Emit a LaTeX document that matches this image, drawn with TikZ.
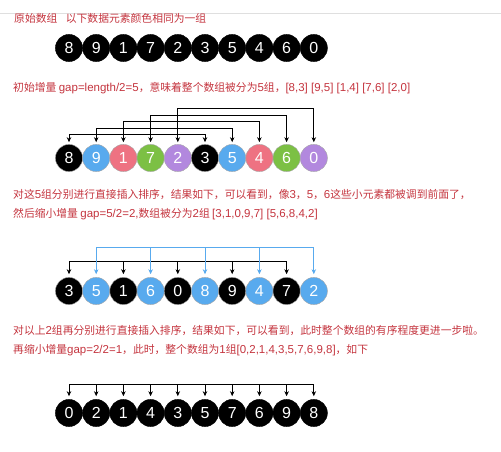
\documentclass[tikz,border=0pt]{standalone}
\usepackage{fontspec}
\setmainfont{Liberation Sans}
\newfontfamily\cjk{Noto Sans CJK SC}
\usepackage{tikz}
\usetikzlibrary{arrows.meta,positioning,calc}

\definecolor{noteRed}{RGB}{196,52,62}
\definecolor{ballBlue}{RGB}{88,170,238}
\definecolor{ballPink}{RGB}{238,114,130}
\definecolor{ballGreen}{RGB}{124,192,68}
\definecolor{ballPurple}{RGB}{178,136,222}

%% latin runs inside the notes
\newcommand\en[1]{{\rmfamily\fontsize{11.5}{12}\selectfont #1}}

\begin{document}
\begin{tikzpicture}[x=1pt,y=-1pt,
  >={Stealth[length=5pt,width=4.5pt]},
  ball/.style={circle,fill=black,draw=gray!70,line width=0.4pt,minimum size=27.2pt,inner sep=0pt,
    text=white,font=\fontsize{16}{16}\selectfont},
  note/.style={anchor=west,inner sep=0pt,text=noteRed,font=\cjk\fontsize{10.8}{12}\selectfont},
  link/.style={line width=0.7pt},
  bluelink/.style={line width=0.7pt,ballBlue}]

\useasboundingbox (0,0) rectangle (501,452);

%% thin grey rule at the top
\draw[gray!25,line width=0.8pt] (0,13) -- (501,13);

%% Original array
\node[note] (t1) at (14,18) {原始数组\hspace{8.5pt}以下数据元素颜色相同为一组};
\foreach \v [count=\i] in {8,9,1,7,2,3,5,4,6,0}
  \node[ball,draw=black] (a\i) at ({69+27.2*(\i-1)},48) {\v};

%% gap = 5
\node[note] (t2) at (13,88) {初始增量 \en{gap=length/2=5}，意味着整个数组被分为\en{5}组，\en{[8,3] [9,5] [1,4] [7,6] [2,0]}};
\foreach \v/\c [count=\i] in {8/black,9/ballBlue,1/ballPink,7/ballGreen,2/ballPurple,
                              3/black,5/ballBlue,4/ballPink,6/ballGreen,0/ballPurple}
  \node[ball,fill=\c] (b\i) at ({69+27.2*(\i-1)},158) {\v};

\foreach \i/\j/\h in {1/6/134.5, 2/7/128, 3/8/121.5, 4/9/115, 5/10/108}
  \draw[link,<->,shorten <=2pt,shorten >=2pt] (b\i.north) -- (b\i.north |- 0,\h) -| (b\j.north);

%% gap = 2
\node[note] (t3) at (13,195) {对这\en{5}组分别进行直接插入排序，结果如下，可以看到，像\en{3}，\en{5}，\en{6}这些小元素都被调到前面了，};
\node[note] (t4) at (13,214) {然后缩小增量 \en{gap=5/2=2,}数组被分为\en{2}组 \en{[3,1,0,9,7] [5,6,8,4,2]}};
\foreach \v/\c [count=\i] in {3/black,5/ballBlue,1/black,6/ballBlue,0/black,
                              8/ballBlue,9/black,4/ballBlue,7/black,2/ballBlue}
  \node[ball,fill=\c] (c\i) at ({69+27.2*(\i-1)},291) {\v};

\draw[link] (c1.north |- 0,261) -- (c9.north |- 0,261);
\foreach \i in {1,3,5,7,9}
  \draw[link,->,shorten >=3pt] (c\i.north |- 0,261) -- (c\i.north);
\draw[bluelink] (c2.north |- 0,247) -- (c10.north |- 0,247);
\foreach \i in {2,4,6,8,10}
  \draw[bluelink,->,shorten >=3pt] (c\i.north |- 0,247) -- (c\i.north);

%% gap = 1
\node[note] (t5) at (13,331) {对以上\en{2}组再分别进行直接插入排序，结果如下，可以看到，此时整个数组的有序程度更进一步啦。};
\node[note] (t6) at (13,350) {再缩小增量\en{gap=2/2=1}，此时，整个数组为\en{1}组\en{[0,2,1,4,3,5,7,6,9,8]}，如下};
\foreach \v [count=\i] in {0,2,1,4,3,5,7,6,9,8}
  \node[ball,draw=black] (d\i) at ({69+27.2*(\i-1)},413) {\v};

\draw[link] (d1.north |- 0,384) -- (d10.north |- 0,384);
\foreach \i in {1,...,10}
  \draw[link,->,shorten >=3pt] (d\i.north |- 0,384) -- (d\i.north);

\end{tikzpicture}
\end{document}
